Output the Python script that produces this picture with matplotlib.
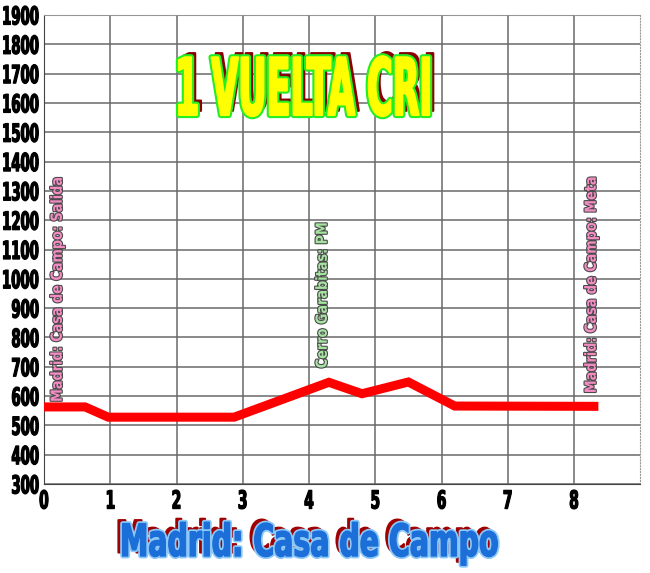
import matplotlib
matplotlib.use('Agg')
import matplotlib.pyplot as plt
import matplotlib.patheffects as pe
from matplotlib.transforms import Affine2D

# profile data (km, m)
km = [0, 0.62, 0.97, 2.87, 4.3, 4.8, 5.5, 6.2, 8.3]
alt = [563, 563, 528, 528, 647, 608, 648, 566, 565]

x_ticks = [0, 1, 2, 3, 4, 5, 6, 7, 8]
y_ticks = list(range(300, 2000, 100))

# vertical point labels
pt_km = [0.2, 4.2, 8.26]
pt_alt = [580, 695, 610]
pt_text = ['Madrid: Casa de Campo: Salida', 'Cerro Garabitas: PM', 'Madrid: Casa de Campo: Meta']
pt_color = ['#f48cc4', '#a6e2a0', '#f48cc4']

title = '1 VUELTA CRI'
xlabel = 'Madrid: Casa de Campo'


# no condensed font installed, so squeeze the glyph outlines sideways
class Squeeze(pe.AbstractPathEffect):
    def __init__(self, inner, sx, anchor='left'):
        super().__init__()
        self.inner = inner
        self.sx = sx
        self.anchor = anchor

    def draw_path(self, renderer, gc, tpath, affine, rgbFace=None):
        ext = tpath.get_extents()
        x0 = {'left': 0, 'center': (ext.x0 + ext.x1) / 2, 'right': ext.x1}[self.anchor]
        sq = Affine2D().translate(-x0, 0).scale(self.sx, 1).translate(x0, 0)
        self.inner.draw_path(renderer, gc, tpath, sq + affine, rgbFace)


def squeezed(effects, sx, anchor='left'):
    return [Squeeze(e, sx, anchor) for e in effects]


fig = plt.figure(figsize=(6.5, 5.73), dpi=100)
ax = fig.add_axes([0.0677, 0.1553, 0.9173, 0.8185])

ax.set_xlim(0, 9)
ax.set_ylim(300, 1900)
ax.set_xticks(x_ticks)
ax.set_yticks(y_ticks)
ax.grid(True, color='#6a6a6a', linewidth=1.1)
ax.set_axisbelow(True)
ax.tick_params(axis='x', length=0, pad=4)
ax.tick_params(axis='y', length=0, pad=3)

# heavy black tick labels
tick_fx = [pe.withStroke(linewidth=0.9, foreground='black')]
for lab in ax.get_xticklabels():
    lab.set_fontweight('bold')
    lab.set_fontsize(18)
    lab.set_path_effects(squeezed(tick_fx, 0.55, 'center'))
for lab in ax.get_yticklabels():
    lab.set_fontweight('bold')
    lab.set_fontsize(18)
    lab.set_path_effects(squeezed(tick_fx, 0.53, 'right'))

for s in ['top', 'right']:
    ax.spines[s].set_color('#999999')
    ax.spines[s].set_linestyle(':')
ax.spines['left'].set_color('#444444')
ax.spines['bottom'].set_color('#444444')

ax.plot(km, alt, color='#ff0000', linewidth=6.5, solid_joinstyle='miter', zorder=3)

for xk, ya, t, c in zip(pt_km, pt_alt, pt_text, pt_color):
    ax.text(xk, ya, t, rotation=90, ha='center', va='bottom', color=c,
            fontweight='bold', fontsize=11,
            path_effects=squeezed([pe.withStroke(linewidth=1.6, foreground='#4a4a4a')], 0.84),
            zorder=4)

# title with green outline and dark red shadow
fig.text(175 / 650, 1 - 115 / 573, title, ha='left', va='baseline',
         color='#ffff00', fontweight='bold', fontsize=57,
         path_effects=squeezed([pe.Stroke(linewidth=1.5, foreground='#8b0000', offset=(3, 3)),
                                pe.SimplePatchShadow(offset=(3, 3), shadow_rgbFace='#8b0000', alpha=1),
                                pe.Stroke(linewidth=4.5, foreground='#22ee22'),
                                pe.withStroke(linewidth=1.5, foreground='#ffff00')], 0.44))

fig.text(120 / 650, 1 - 556 / 573, xlabel, ha='left', va='baseline',
         color='#1c6fd8', fontweight='bold', fontsize=32,
         path_effects=squeezed([pe.Stroke(linewidth=1.5, foreground='#a00000', offset=(-3, 2.5)),
                                pe.SimplePatchShadow(offset=(-3, 2.5), shadow_rgbFace='#a00000', alpha=1),
                                pe.Stroke(linewidth=3.5, foreground='#8cc8f8'),
                                pe.withStroke(linewidth=1, foreground='#1c6fd8')], 0.64))

fig.savefig('out.png', dpi=100)
